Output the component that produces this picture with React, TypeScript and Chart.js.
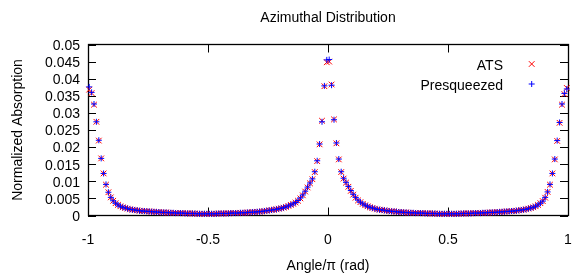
import React, { useEffect, useRef } from "react";
import { Chart, registerables } from "chart.js";
import { drawPoint } from "chart.js/helpers";

Chart.register(...registerables);

const TITLE = "Azimuthal Distribution";
const X_LABEL = "Angle/π (rad)";
const Y_LABEL = "Normalized Absorption";
const SERIES_NAMES = ["ATS", "Presqueezed"];
const X_MIN = -1;
const X_MAX = 1;
const X_STEP = 0.5;
const Y_MIN = 0;
const Y_MAX = 0.05;
const Y_STEP = 0.005;

// sampling grid of the angle (in units of π)
const ANGLE_START = -0.995;
const ANGLE_STEP = 0.01;

const ATS_VALUES = [
  0.0368, 0.0358, 0.0324, 0.0274, 0.0219, 0.0167, 0.0123, 0.0090, 0.0068, 0.0053,
  0.0043, 0.0036, 0.0031, 0.0027, 0.0024, 0.0022, 0.0020, 0.0018, 0.0017, 0.0016,
  0.0015, 0.0014, 0.0013, 0.0013, 0.0012, 0.0012, 0.0011, 0.0011, 0.0010, 0.0010,
  0.0009, 0.0009, 0.0009, 0.0008, 0.0008, 0.0008, 0.0007, 0.0007, 0.0007, 0.0007,
  0.0006, 0.0006, 0.0006, 0.0006, 0.0006, 0.0005, 0.0005, 0.0005, 0.0005, 0.0005,
  0.0005, 0.0005, 0.0005, 0.0005, 0.0006, 0.0006, 0.0006, 0.0006, 0.0006, 0.0007,
  0.0007, 0.0007, 0.0007, 0.0008, 0.0008, 0.0008, 0.0009, 0.0009, 0.0010, 0.0010,
  0.0011, 0.0011, 0.0012, 0.0013, 0.0014, 0.0015, 0.0016, 0.0017, 0.0018, 0.0020,
  0.0021, 0.0023, 0.0025, 0.0028, 0.0031, 0.0034, 0.0038, 0.0043, 0.0050, 0.0059,
  0.0070, 0.0082, 0.0094, 0.0106, 0.0127, 0.0159, 0.0208, 0.0277, 0.0378, 0.0448,
  0.0450, 0.0383, 0.0281, 0.0211, 0.0164, 0.0127, 0.0108, 0.0096, 0.0084, 0.0072,
  0.0061, 0.0052, 0.0044, 0.0039, 0.0034, 0.0030, 0.0027, 0.0024, 0.0022, 0.0020,
  0.0018, 0.0017, 0.0016, 0.0015, 0.0014, 0.0013, 0.0012, 0.0012, 0.0011, 0.0010,
  0.0010, 0.0009, 0.0009, 0.0008, 0.0008, 0.0008, 0.0007, 0.0007, 0.0007, 0.0007,
  0.0006, 0.0006, 0.0006, 0.0006, 0.0006, 0.0005, 0.0005, 0.0005, 0.0005, 0.0005,
  0.0005, 0.0005, 0.0005, 0.0005, 0.0005, 0.0006, 0.0006, 0.0006, 0.0006, 0.0006,
  0.0007, 0.0007, 0.0007, 0.0007, 0.0008, 0.0008, 0.0008, 0.0009, 0.0009, 0.0009,
  0.0010, 0.0010, 0.0011, 0.0011, 0.0012, 0.0012, 0.0013, 0.0013, 0.0014, 0.0015,
  0.0016, 0.0017, 0.0018, 0.0020, 0.0022, 0.0024, 0.0027, 0.0031, 0.0036, 0.0042,
  0.0052, 0.0069, 0.0090, 0.0123, 0.0164, 0.0218, 0.0271, 0.0324, 0.0355, 0.0373,
];

const PRESQUEEZED_VALUES = [
  0.0376, 0.0360, 0.0326, 0.0274, 0.0220, 0.0167, 0.0123, 0.0091, 0.0068, 0.0053,
  0.0043, 0.0036, 0.0031, 0.0027, 0.0024, 0.0022, 0.0020, 0.0018, 0.0017, 0.0016,
  0.0015, 0.0014, 0.0013, 0.0013, 0.0012, 0.0012, 0.0011, 0.0011, 0.0010, 0.0010,
  0.0009, 0.0009, 0.0009, 0.0008, 0.0008, 0.0008, 0.0007, 0.0007, 0.0007, 0.0007,
  0.0006, 0.0006, 0.0006, 0.0006, 0.0006, 0.0005, 0.0005, 0.0005, 0.0005, 0.0005,
  0.0005, 0.0005, 0.0005, 0.0005, 0.0006, 0.0006, 0.0006, 0.0006, 0.0006, 0.0007,
  0.0007, 0.0007, 0.0007, 0.0008, 0.0008, 0.0008, 0.0009, 0.0009, 0.0010, 0.0010,
  0.0011, 0.0011, 0.0012, 0.0013, 0.0014, 0.0015, 0.0016, 0.0017, 0.0018, 0.0020,
  0.0021, 0.0023, 0.0025, 0.0028, 0.0031, 0.0034, 0.0038, 0.0044, 0.0051, 0.0060,
  0.0071, 0.0083, 0.0095, 0.0107, 0.0128, 0.0160, 0.0209, 0.0274, 0.0379, 0.0455,
  0.0456, 0.0381, 0.0280, 0.0212, 0.0165, 0.0128, 0.0109, 0.0097, 0.0085, 0.0073,
  0.0062, 0.0053, 0.0045, 0.0039, 0.0034, 0.0030, 0.0027, 0.0024, 0.0022, 0.0020,
  0.0018, 0.0017, 0.0016, 0.0015, 0.0014, 0.0013, 0.0012, 0.0012, 0.0011, 0.0010,
  0.0010, 0.0009, 0.0009, 0.0008, 0.0008, 0.0008, 0.0007, 0.0007, 0.0007, 0.0007,
  0.0006, 0.0006, 0.0006, 0.0006, 0.0006, 0.0005, 0.0005, 0.0005, 0.0005, 0.0005,
  0.0005, 0.0005, 0.0005, 0.0005, 0.0005, 0.0006, 0.0006, 0.0006, 0.0006, 0.0006,
  0.0007, 0.0007, 0.0007, 0.0007, 0.0008, 0.0008, 0.0008, 0.0009, 0.0009, 0.0009,
  0.0010, 0.0010, 0.0011, 0.0011, 0.0012, 0.0012, 0.0013, 0.0013, 0.0014, 0.0015,
  0.0016, 0.0017, 0.0018, 0.0020, 0.0022, 0.0024, 0.0027, 0.0031, 0.0036, 0.0042,
  0.0053, 0.0069, 0.0091, 0.0123, 0.0165, 0.0219, 0.0272, 0.0326, 0.0357, 0.0370,
];

const FONT_FAMILY = "'Liberation Sans', Arial, Helvetica, sans-serif";

const toPoints = (values: number[]) =>
  values.map((v, i) => ({ x: ANGLE_START + i * ANGLE_STEP, y: v }));

const framePlugin = {
  id: "gnuplotFrame",
  beforeDatasetsDraw(chart: any) {
    const { ctx, chartArea: a, scales } = chart;
    const TL = 8;
    ctx.save();
    ctx.strokeStyle = "#000";
    ctx.lineWidth = 1;
    ctx.beginPath();
    scales.x.ticks.forEach((t: any) => {
      const px = Math.round(scales.x.getPixelForValue(t.value)) + 0.5;
      ctx.moveTo(px, a.bottom);
      ctx.lineTo(px, a.bottom - TL);
      ctx.moveTo(px, a.top);
      ctx.lineTo(px, a.top + TL);
    });
    scales.y.ticks.forEach((t: any) => {
      const py = Math.round(scales.y.getPixelForValue(t.value)) + 0.5;
      ctx.moveTo(a.left, py);
      ctx.lineTo(a.left + TL, py);
      ctx.moveTo(a.right, py);
      ctx.lineTo(a.right - TL, py);
    });
    ctx.stroke();
    ctx.lineWidth = 1.3;
    ctx.strokeRect(a.left + 0.5, a.top, a.right - a.left, a.bottom - a.top);
    ctx.restore();
  },
};

const keyPlugin = {
  id: "insideKey",
  afterDatasetsDraw(chart: any) {
    const { ctx, chartArea: a } = chart;
    ctx.save();
    ctx.font = `14px ${FONT_FAMILY}`;
    ctx.fillStyle = "#000";
    ctx.textAlign = "right";
    ctx.textBaseline = "middle";
    chart.data.datasets.forEach((ds: any, i: number) => {
      const y = a.top + 22 + i * 20;
      ctx.fillText(ds.label, a.right - 65, y);
      ctx.strokeStyle = ds.borderColor;
      ctx.lineWidth = ds.borderWidth;
      drawPoint(
        ctx,
        { pointStyle: ds.pointStyle, radius: ds.pointRadius, borderWidth: ds.borderWidth, rotation: 0 } as any,
        a.right - 36.3,
        y - 2.5
      );
    });
    ctx.restore();
  },
};

export default function App() {
  const ref = useRef<HTMLCanvasElement | null>(null);

  useEffect(() => {
    if (!ref.current) return;
    Chart.defaults.font.family = FONT_FAMILY;
    Chart.defaults.color = "#000";
    const chart = new Chart(ref.current, {
      type: "scatter",
      data: {
        datasets: [
          {
            label: SERIES_NAMES[0],
            data: toPoints(ATS_VALUES),
            pointStyle: "crossRot",
            pointRadius: 4,
            borderWidth: 1,
            borderColor: "#ff0000",
            backgroundColor: "#ff0000",
            showLine: false,
            order: 1,
            clip: false as any,
          },
          {
            label: SERIES_NAMES[1],
            data: toPoints(PRESQUEEZED_VALUES),
            pointStyle: "cross",
            pointRadius: 3,
            borderWidth: 1,
            borderColor: "#0000ff",
            backgroundColor: "#0000ff",
            showLine: false,
            order: 0,
            clip: false as any,
          },
        ],
      },
      options: {
        animation: false,
        responsive: false,
        devicePixelRatio: 1,
        layout: { padding: { left: 0, right: 4, top: 0, bottom: 0 } },
        plugins: {
          legend: { display: false },
          tooltip: { enabled: false },
          title: {
            display: true,
            text: TITLE,
            fullSize: false,
            color: "#000",
            font: { size: 14, weight: "normal" as any, family: FONT_FAMILY },
            padding: { top: 10, bottom: 17.7 },
          },
        },
        scales: {
          x: {
            type: "linear",
            min: X_MIN,
            max: X_MAX,
            grid: { display: false, drawTicks: false },
            border: { display: false },
            ticks: {
              stepSize: X_STEP,
              padding: 16,
              autoSkip: false,
              maxRotation: 0,
              color: "#000",
              font: { size: 14 },
              callback: (v: any) => String(Number(Number(v).toFixed(2))),
            },
            title: {
              display: true,
              text: X_LABEL,
              color: "#000",
              font: { size: 14 },
              padding: { top: 0, bottom: 0 },
            },
            afterFit: (s: any) => {
              s.height = 59.5;
              s.paddingLeft = 0;
              s.paddingRight = 0;
            },
          },
          y: {
            type: "linear",
            min: Y_MIN,
            max: Y_MAX,
            grid: { display: false, drawTicks: false },
            border: { display: false },
            ticks: {
              stepSize: Y_STEP,
              padding: 8,
              autoSkip: false,
              labelOffset: 1.5,
              color: "#000",
              font: { size: 14 },
              callback: (v: any) => String(Number(Number(v).toFixed(4))),
            },
            title: {
              display: true,
              text: Y_LABEL,
              color: "#000",
              font: { size: 14 },
              padding: { top: 9.6, bottom: 0 },
            },
            afterFit: (s: any) => {
              s.width = 88;
            },
          },
        },
      },
      plugins: [framePlugin, keyPlugin],
    });
    return () => chart.destroy();
  }, []);

  return (
    <div style={{ position: "fixed", left: 0, top: 0, width: 573, height: 275, background: "#fff" }}>
      <canvas ref={ref} width={573} height={275} style={{ width: 573, height: 275, display: "block" }} />
    </div>
  );
}
